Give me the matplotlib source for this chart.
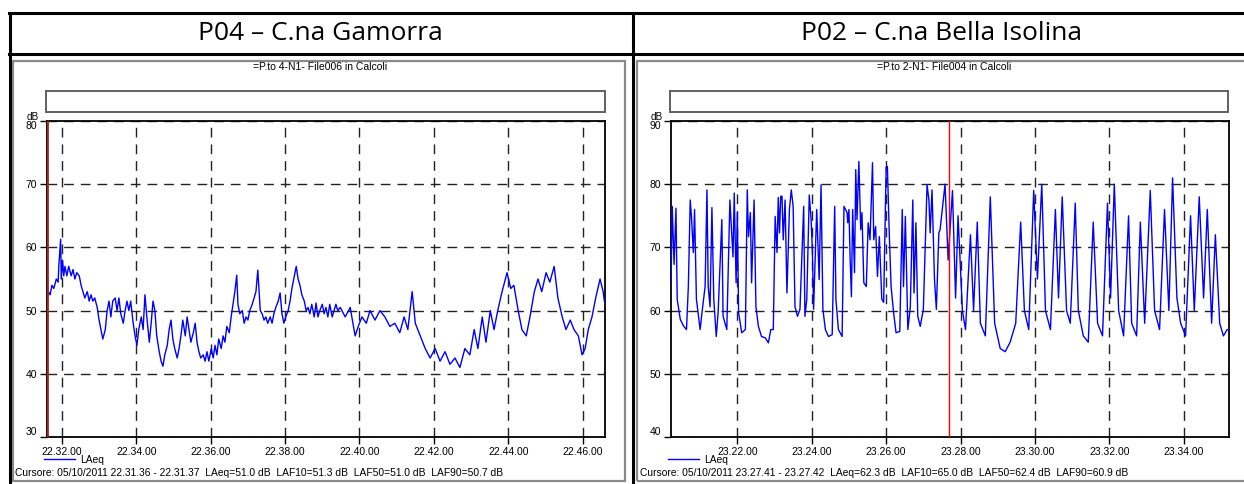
import matplotlib
matplotlib.use("Agg")
import matplotlib.pyplot as plt
from matplotlib.lines import Line2D
from matplotlib.patches import Rectangle

# ---------------- data ----------------
left_title = "P04 \u2013 C.na Gamorra"
right_title = "P02 \u2013 C.na Bella Isolina"
left_sub = "=P.to 4-N1- File006 in Calcoli"
right_sub = "=P.to 2-N1- File004 in Calcoli"
left_cursor_txt = "Cursore: 05/10/2011 22.31.36 - 22.31.37  LAeq=51.0 dB  LAF10=51.3 dB  LAF50=51.0 dB  LAF90=50.7 dB"
right_cursor_txt = "Cursore: 05/10/2011 23.27.41 - 23.27.42  LAeq=62.3 dB  LAF10=65.0 dB  LAF50=62.4 dB  LAF90=60.9 dB"

left_start = 22 * 3600 + 31 * 60 + 36   # 22.31.36
right_start = 23 * 3600 + 20 * 60 + 13  # 23.20.13
duration = 900
left_cursor = 22 * 3600 + 31 * 60 + 36
right_cursor = 23 * 3600 + 27 * 60 + 41

left_xticks = ["22.32.00", "22.34.00", "22.36.00", "22.38.00", "22.40.00", "22.42.00", "22.44.00", "22.46.00"]
right_xticks = ["23.22.00", "23.24.00", "23.26.00", "23.28.00", "23.30.00", "23.32.00", "23.34.00"]
left_yticks = [30, 40, 50, 60, 70, 80]
right_yticks = [40, 50, 60, 70, 80, 90]

# seconds after start, LAeq dB
left_t = [0, 2, 5, 8, 11, 15, 18, 19, 22, 23, 25, 27, 29, 32, 35, 39, 42, 45, 48, 52, 55, 58, 61, 65, 68, 71, 74, 77,
          81, 84, 87, 90, 94, 97, 100, 103, 106, 110, 113, 116, 119, 123, 126, 129, 132, 135, 139, 142, 145, 148, 152,
          155, 158, 161, 165, 168, 171, 174, 177, 181, 184, 187, 190, 194, 197, 200, 203, 206, 210, 213, 216, 219, 223,
          226, 229, 232, 236, 239, 242, 245, 248, 252, 255, 258, 261, 265, 268, 271, 274, 277, 281, 284, 287, 290, 294,
          297, 300, 303, 306, 308, 311, 315, 318, 321, 324, 327, 331, 334, 337, 340, 344, 347, 350, 353, 356, 360, 363,
          366, 369, 373, 376, 379, 382, 385, 389, 392, 395, 398, 402, 405, 408, 411, 415, 418, 421, 424, 427, 431, 434,
          437, 440, 444, 447, 450, 453, 456, 460, 463, 466, 469, 473, 481, 489, 497, 502, 508, 515, 521, 529, 537, 545,
          553, 561, 569, 576, 582, 589, 594, 602, 610, 618, 626, 634, 642, 650, 658, 666, 674, 682, 689, 695, 702, 708,
          715, 721, 727, 734, 742, 748, 753, 760, 766, 773, 779, 786, 792, 798, 805, 811, 818, 824, 831, 837, 844, 850,
          857, 863, 868, 873, 879, 885, 892, 897, 899]
left_db = [51.5, 53, 52.5, 54, 53.5, 55, 54.5, 57, 61.3, 55, 58, 55.5, 57, 55.5, 57, 55.5, 56.5, 55, 56, 55.5, 54, 53,
           52, 53, 51.5, 52.5, 51.5, 52, 50.5, 48.5, 47, 45.5, 47, 50, 51.5, 49, 51.5, 52, 50, 52, 49.5, 48, 50, 51.5,
           50, 51.5, 48, 46, 44.5, 47, 49, 47, 52.5, 49, 45, 48, 51.5, 50, 46, 43.5, 42, 41.2, 43, 44.5, 47, 48.5, 45.5,
           44, 42.5, 44, 46, 48.5, 46, 49, 47, 45, 46.5, 48, 45, 43.5, 42.5, 43, 42, 43.5, 42, 44, 42.5, 44.5, 43, 45.5,
           44, 46, 45, 47.5, 46.5, 49, 51, 53, 55.6, 51, 49.5, 50, 48, 49, 48.5, 50, 51, 52, 53, 56.4, 50, 49.5, 48.5,
           49, 48, 49, 48, 49.5, 50.5, 51.5, 52.8, 49.5, 48, 49, 50, 51.5, 53.5, 55, 57, 55, 54, 52.5, 51.5, 50, 50.5,
           49.5, 51, 49, 51.2, 49, 50, 51, 49.5, 50.5, 49, 51, 49, 50, 51, 50, 50.5, 49, 50.5, 46, 47.5, 49, 48, 50,
           48.5, 50, 49, 47.5, 48, 46.5, 49, 47, 53, 48, 46, 44, 42.5, 44, 42, 43.5, 41.5, 42.5, 41, 44, 43, 47, 44, 49,
           45, 50, 47, 50, 53, 56, 53.5, 54, 50, 47, 46, 49, 53, 55, 53, 56, 54.5, 57, 52, 49, 47, 48.5, 47, 46, 43, 44,
           47, 49, 52, 55, 53, 51.5]

right_t = [0, 2, 5, 8, 10, 15, 20, 25, 28, 31, 33, 36, 38, 41, 47, 50, 52, 55, 58, 60, 63, 66, 69, 73, 76, 82, 84, 90,
           95, 100, 102, 105, 107, 109, 114, 120, 123, 125, 128, 130, 134, 137, 141, 146, 152, 157, 161, 165, 168, 171,
           173, 175, 177, 179, 181, 184, 187, 191, 194, 197, 200, 204, 208, 214, 216, 219, 223, 226, 228, 230, 235, 239,
           242, 245, 249, 254, 260, 264, 266, 270, 276, 279, 284, 285, 287, 289, 291, 293, 296, 298, 300, 303, 306, 308,
           311, 315, 318, 321, 325, 327, 330, 333, 336, 340, 343, 347, 349, 352, 355, 359, 363, 369, 373, 375, 378, 382,
           386, 390, 392, 395, 398, 402, 407, 413, 416, 418, 421, 425, 428, 432, 434, 442, 447, 454, 459, 463, 470, 475,
           483, 488, 494, 499, 507, 515, 522, 531, 539, 547, 556, 564, 570, 577, 585, 591, 598, 604, 612, 620, 625, 631,
           638, 644, 652, 657, 665, 673, 681, 688, 696, 704, 709, 715, 722, 730, 738, 743, 751, 757, 764, 773, 780, 788,
           796, 803, 809, 816, 822, 830, 838, 844, 852, 859, 865, 872, 878, 885, 891, 897, 900]
right_db = [64.1, 76.5, 67.3, 76.2, 61.8, 58.6, 57.6, 57, 63.9, 77.5, 74.9, 69.2, 76, 61.8, 57, 59.7, 61.3, 63.8, 79.1,
            63.8, 60.6, 76.3, 61.8, 55.9, 59.7, 74.4, 59.1, 57, 77.5, 68.5, 78.6, 64.4, 75.5, 59.7, 56.5, 57, 79.1, 71.7,
            75.5, 64.4, 77.5, 60.6, 57.5, 55.9, 55.7, 54.9, 57, 57, 74.9, 69.2, 77.9, 72.3, 78.1, 78.1, 71.2, 77.5, 62.8,
            76, 79.1, 76.5, 60.6, 59.1, 60.2, 76.5, 59.1, 61.8, 78.3, 74.4, 69.6, 60.2, 76, 64.9, 79.9, 60.2, 57, 55.9,
            56.2, 76.5, 61.8, 57, 55.9, 76.5, 75.5, 73.9, 76, 68, 62.2, 76, 66, 82.3, 74.4, 83.6, 72.8, 75.5, 64.4, 63.8,
            73.9, 71.2, 83.4, 71.2, 73.3, 65.4, 71.7, 61.8, 61.3, 82.7, 82.8, 72.3, 63.8, 59.7, 56.5, 56.7, 76, 63.8,
            74.9, 57, 60.6, 77.5, 62.8, 73.9, 59.1, 57.5, 60.2, 79.9, 77.5, 72.3, 79.1, 64.9, 60.2, 72.3, 72.8, 80, 68,
            79, 62, 75, 60, 57, 72, 60, 74, 58, 56, 78, 58, 54, 53.5, 55, 58, 74, 60, 57, 79, 65, 80, 60, 57, 76, 62, 78,
            60, 58, 77, 60, 56, 55, 74, 58, 56, 77, 62, 80, 60, 56, 75, 58, 56, 74, 58, 79, 60, 57, 76, 60, 81, 62, 58,
            56, 75, 60, 78, 62, 76, 58, 72, 58, 56, 57, 57]

# ---------------- layout ----------------
W, H = 1244, 484
fig = plt.figure(figsize=(W / 100, H / 100), dpi=100)
SMALL = ["Liberation Sans", "DejaVu Sans"]
BIG = ["Open Sans", "DejaVu Sans"]


def fx(x):
    return x / W


def fy(y):
    return 1 - y / H


def line(x0, y0, x1, y1, **kw):
    fig.add_artist(Line2D([fx(x0), fx(x1)], [fy(y0), fy(y1)], transform=fig.transFigure, **kw))


def rect(x0, y0, x1, y1, **kw):
    fig.add_artist(Rectangle((fx(x0), fy(y1)), fx(x1) - fx(x0), fy(y0) - fy(y1),
                             transform=fig.transFigure, fill=False, **kw))


# table lines
line(9, 13, 1244, 13, color="black", lw=2.2)
line(9, 53.5, 1244, 53.5, color="black", lw=2.2)
line(9.5, 13, 9.5, 484, color="black", lw=2.2)
line(633, 13, 633, 484, color="black", lw=2.2)

fig.text(fx(320), fy(33.5), left_title, ha="center", va="center", fontsize=19, family=BIG)
fig.text(fx(941), fy(33.5), right_title, ha="center", va="center", fontsize=19, family=BIG)

panels = [
    dict(frame=(13, 61, 625, 481), box=(46, 91, 605, 112), ax=(47, 121, 605, 437),
         sub=left_sub, subx=320, cur=left_cursor_txt, curx=15, start=left_start, t=left_t, db=left_db,
         xt=left_xticks, yt=left_yticks, cursor=left_cursor, ccol="#b01e1e", clw=2.0, dbx=33),
    dict(frame=(637, 61, 1250, 481), box=(670, 91, 1228, 112), ax=(671, 121, 1229, 437),
         sub=right_sub, subx=944, cur=right_cursor_txt, curx=640, start=right_start, t=right_t, db=right_db,
         xt=right_xticks, yt=right_yticks, cursor=right_cursor, ccol="#ff0000", clw=1.0, dbx=657),
]


def hms(s):
    h, m, sec = s.split(".")
    return int(h) * 3600 + int(m) * 60 + int(sec)


for p in panels:
    x0, y0, x1, y1 = p["frame"]
    rect(x0, y0, x1, y1, edgecolor="#8a8a8a", lw=1.6)
    bx0, by0, bx1, by1 = p["box"]
    rect(bx0, by0, bx1, by1, edgecolor="#606060", lw=1.4)
    fig.text(fx(p["subx"]), fy(67), p["sub"], ha="center", va="center", fontsize=7.5, family=SMALL)
    fig.text(fx(p["dbx"]), fy(116.5), "dB", ha="center", va="center", fontsize=7.2, family=SMALL)
    fig.text(fx(p["curx"]), fy(473), p["cur"], ha="left", va="center", fontsize=7.4, family=SMALL)

    a0, b0, a1, b1 = p["ax"]
    ax = fig.add_axes([fx(a0), fy(b1), fx(a1) - fx(a0), fy(b0) - fy(b1)])
    xs = [p["start"] + v for v in p["t"]]
    ax.plot(xs, p["db"], color="#0000ff", lw=1.0, label="LAeq", zorder=3)
    ax.axvline(p["cursor"], color=p["ccol"], lw=p["clw"], zorder=4)
    ax.set_xlim(p["start"], p["start"] + duration)
    ax.set_ylim(p["yt"][0], p["yt"][-1])
    ax.set_xticks([hms(s) for s in p["xt"]])
    ax.set_xticklabels(p["xt"], fontsize=7.5, family=SMALL)
    ax.set_yticks(p["yt"])
    ax.set_yticklabels([str(v) for v in p["yt"]], fontsize=7.5, family=SMALL)
    ax.tick_params(direction="out", length=5, width=1, pad=2, colors="black")
    ax.grid(True, color="#222222", linestyle=(0, (7, 5)), lw=1.0)
    for s in ax.spines.values():
        s.set_linewidth(1.3)
    ticks = ax.yaxis.get_major_ticks()
    ticks[0].label1.set_va("bottom")
    ticks[-1].label1.set_va("top")
    ax.legend(loc="upper left", bbox_to_anchor=(fx(a0 - 3), fy(455)), bbox_transform=fig.transFigure,
              frameon=False, handlelength=3.0, handletextpad=0.5,
              prop={"family": SMALL, "size": 7.4}, borderaxespad=0, borderpad=0)

fig.savefig("out.png", dpi=100)
